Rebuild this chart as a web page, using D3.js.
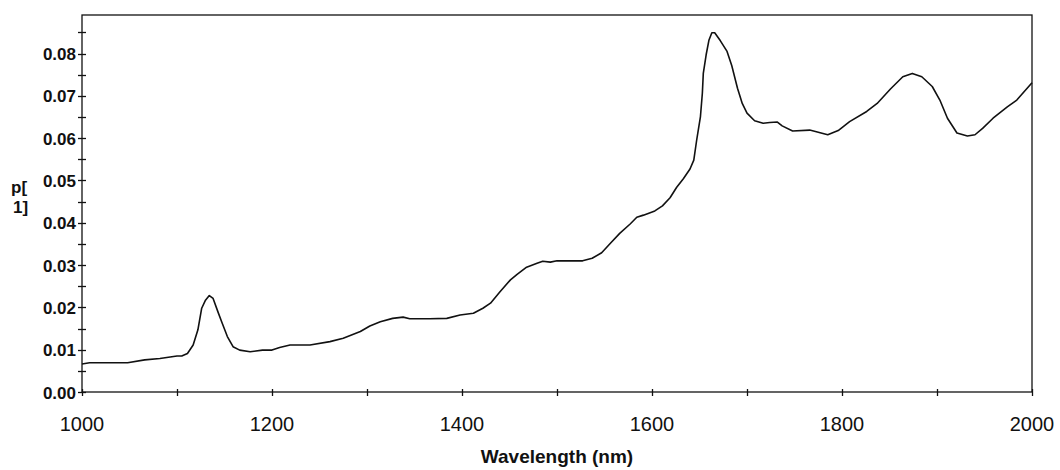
<!DOCTYPE html>
<html>
<head>
<meta charset="utf-8">
<script src="https://cdn.jsdelivr.net/npm/d3@7"></script>
<style>
  html, body { margin: 0; padding: 0; background: #fff; }
  svg { display: block; }
</style>
</head>
<body>
<svg id="chart" width="1060" height="470"></svg>
<script>
// Loading spectrum p[1] against wavelength
const wavelength = [
  1000, 1008, 1048, 1066, 1082, 1100, 1105, 1111, 1117, 1122,
  1126, 1130, 1134, 1138, 1143, 1147, 1153, 1159, 1166, 1177,
  1190, 1200, 1208, 1219, 1240, 1261, 1275, 1293, 1303, 1314,
  1327, 1338, 1345, 1366, 1384, 1398, 1412, 1422, 1430, 1440,
  1451, 1458, 1468, 1479, 1485, 1493, 1500, 1527, 1537, 1547,
  1556, 1566, 1577, 1584, 1591, 1603, 1611, 1619, 1626, 1633,
  1640, 1644, 1647, 1651, 1653, 1654, 1657, 1660, 1663, 1666,
  1672, 1679, 1684, 1690, 1695, 1700, 1708, 1717, 1724, 1732,
  1737, 1748, 1766, 1785, 1796, 1808, 1826, 1837, 1851, 1864,
  1874, 1884, 1895, 1903, 1911, 1921, 1932, 1940, 1948, 1959,
  1974, 1984, 2000
];
const loading = [
  0.0066, 0.0069, 0.0069, 0.0076, 0.0079, 0.0085, 0.0085, 0.0091, 0.0111, 0.0147,
  0.0198, 0.0217, 0.0228, 0.0221, 0.0190, 0.0166, 0.0131, 0.0107, 0.0099, 0.0095,
  0.0099, 0.0099, 0.0105, 0.0111, 0.0111, 0.0119, 0.0127, 0.0143, 0.0156, 0.0166,
  0.0174, 0.0177, 0.0173, 0.0173, 0.0174, 0.0182, 0.0186, 0.0198, 0.0210, 0.0237,
  0.0265, 0.0278, 0.0295, 0.0304, 0.0309, 0.0307, 0.0310, 0.0310, 0.0316, 0.0329,
  0.0351, 0.0375, 0.0397, 0.0413, 0.0418, 0.0428, 0.0440, 0.0459, 0.0484, 0.0504,
  0.0527, 0.0548, 0.0595, 0.0651, 0.0706, 0.0753, 0.0797, 0.0832, 0.0849, 0.0849,
  0.0830, 0.0805, 0.0771, 0.0718, 0.0682, 0.0659, 0.0641, 0.0635, 0.0637, 0.0638,
  0.0629, 0.0617, 0.0619, 0.0608, 0.0618, 0.0639, 0.0663, 0.0682, 0.0716, 0.0745,
  0.0753, 0.0745, 0.0722, 0.0690, 0.0647, 0.0612, 0.0605, 0.0608, 0.0623, 0.0647,
  0.0674, 0.0690, 0.0731
];
const xTicks = [1000, 1100, 1200, 1300, 1400, 1500, 1600, 1700, 1800, 1900, 2000];
const xTickLabels = [1000, 1200, 1400, 1600, 1800, 2000];
const yTicks = [0, 0.005, 0.01, 0.015, 0.02, 0.025, 0.03, 0.035, 0.04, 0.045,
                0.05, 0.055, 0.06, 0.065, 0.07, 0.075, 0.08, 0.085];
const yTickLabels = [0, 0.01, 0.02, 0.03, 0.04, 0.05, 0.06, 0.07, 0.08];

const plot = { left: 82, right: 1032, top: 15, bottom: 392 };
const svg = d3.select("#chart");

const x = d3.scaleLinear().domain([1000, 2000]).range([plot.left, plot.right]);
const y = d3.scaleLinear().domain([0, 0.0891]).range([plot.bottom, plot.top]);

// frame
svg.append("rect")
  .attr("x", plot.left).attr("y", plot.top)
  .attr("width", plot.right - plot.left).attr("height", plot.bottom - plot.top)
  .attr("fill", "none").attr("stroke", "#111").attr("stroke-width", 1.3);

// y ticks crossing the left spine
svg.append("g").selectAll("line").data(yTicks).join("line")
  .attr("x1", plot.left - 4).attr("x2", plot.left + 4)
  .attr("y1", d => Math.round(y(d)) + 0.5).attr("y2", d => Math.round(y(d)) + 0.5)
  .attr("stroke", "#111").attr("stroke-width", 1.3);

svg.append("g").selectAll("text").data(yTickLabels).join("text")
  .attr("x", plot.left - 6)
  .attr("y", d => y(d) + 6.5)
  .attr("text-anchor", "end")
  .attr("font-family", "Liberation Sans, Arial, sans-serif")
  .attr("font-weight", "bold")
  .attr("font-size", 17)
  .attr("fill", "#111")
  .text(d3.format(".2f"));

// x ticks crossing the bottom spine
svg.append("g").selectAll("line").data(xTicks).join("line")
  .attr("x1", d => Math.round(x(d)) + 0.5).attr("x2", d => Math.round(x(d)) + 0.5)
  .attr("y1", plot.bottom - 3).attr("y2", plot.bottom + 4)
  .attr("stroke", "#111").attr("stroke-width", 1.3);

svg.append("g").selectAll("text").data(xTickLabels).join("text")
  .attr("x", d => x(d))
  .attr("y", 431)
  .attr("text-anchor", "middle")
  .attr("font-family", "Liberation Sans, Arial, sans-serif")
  .attr("font-size", 20)
  .attr("fill", "#111")
  .text(d => d);

// axis titles
svg.append("text")
  .attr("x", (plot.left + plot.right) / 2).attr("y", 463)
  .attr("text-anchor", "middle")
  .attr("font-family", "Liberation Sans, Arial, sans-serif")
  .attr("font-weight", "bold").attr("font-size", 19)
  .attr("fill", "#111")
  .text("Wavelength (nm)");

const yTitle = svg.append("text")
  .attr("font-family", "Liberation Sans, Arial, sans-serif")
  .attr("font-weight", "bold").attr("font-size", 17)
  .attr("fill", "#111");
yTitle.append("tspan").attr("x", 11).attr("y", 193).text("p[");
yTitle.append("tspan").attr("x", 13).attr("y", 213).text("1]");

// spectrum line
const line = d3.line()
  .x((d, i) => x(wavelength[i]))
  .y(d => y(d));

svg.append("path")
  .datum(loading)
  .attr("d", line)
  .attr("fill", "none")
  .attr("stroke", "#111")
  .attr("stroke-width", 1.6)
  .attr("stroke-linejoin", "round");
</script>
</body>
</html>
